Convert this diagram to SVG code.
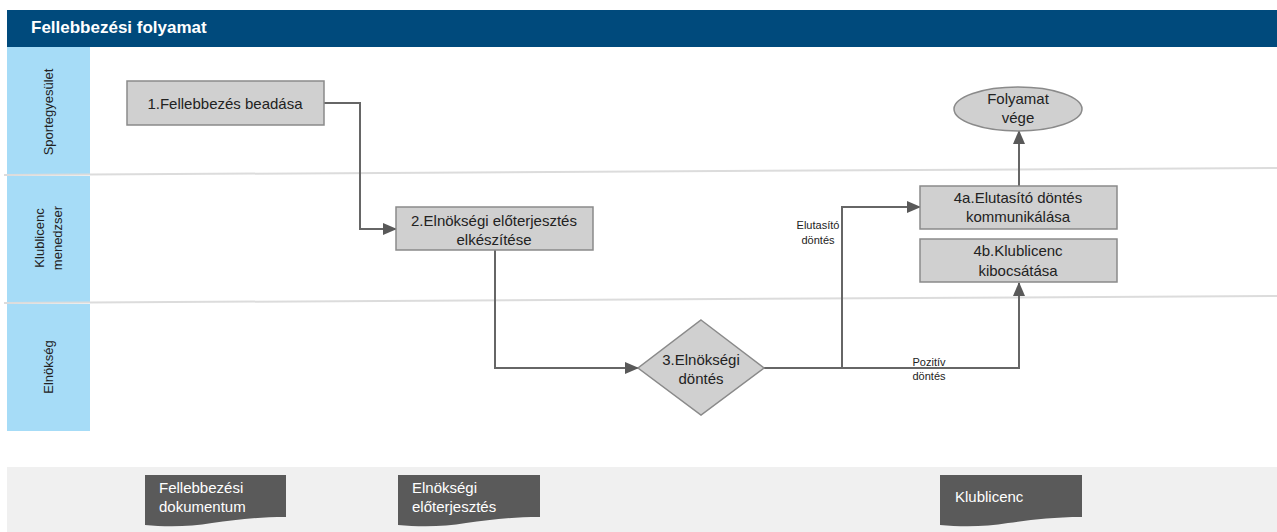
<svg xmlns="http://www.w3.org/2000/svg" width="1277" height="532" viewBox="0 0 1277 532">
<defs>
<style>
.t{font-family:"Liberation Sans",Arial,sans-serif;fill:#222;}
.node{fill:#d0d0d0;stroke:#8a8a8a;stroke-width:1.5;}
.lane{fill:#a6dcf7;}
.sep{stroke:#dcdcdc;stroke-width:2;}
.conn{fill:none;stroke:#666;stroke-width:2;}
.doc{fill:#5a5a5a;}
.dt{font-family:"Liberation Sans",Arial,sans-serif;fill:#fff;font-size:15px;}
</style>
<marker id="arr" markerWidth="14" markerHeight="12" refX="13" refY="6" orient="auto" markerUnits="userSpaceOnUse">
<path d="M0,0 L14,6 L0,12 Z" fill="#595959"/>
</marker>
</defs>
<rect width="1277" height="532" fill="#fff"/>
<g id="header">
<rect x="7" y="10" width="1270" height="37" fill="#004a7c"/>
<text x="31" y="33" class="t" style="fill:#fff;font-size:17px;font-weight:bold">Fellebbezési folyamat</text>
</g>
<g id="lanes">
<rect class="lane" x="7" y="47" width="83" height="127"/>
<rect class="lane" x="7" y="176" width="83" height="126"/>
<rect class="lane" x="7" y="304" width="83" height="127"/>
<line class="sep" x1="4" y1="175" x2="1277" y2="168"/>
<line class="sep" x1="4" y1="303" x2="1277" y2="296"/>
<text class="t" font-size="13" text-anchor="middle" transform="translate(53,112) rotate(-90)">Sportegyesület</text>
<text class="t" font-size="13" text-anchor="middle" transform="translate(44,238) rotate(-90)">Klublicenc</text>
<text class="t" font-size="13" text-anchor="middle" transform="translate(62,238) rotate(-90)">menedzser</text>
<text class="t" font-size="13" text-anchor="middle" transform="translate(53,367) rotate(-90)">Elnökség</text>
</g>
<g id="connectors">
<polyline class="conn" points="324,103 360,103 360,229 396,229" marker-end="url(#arr)"/>
<polyline class="conn" points="495,250 495,368 638,368" marker-end="url(#arr)"/>
<polyline class="conn" points="764,368 1019,368 1019,283" marker-end="url(#arr)"/>
<polyline class="conn" points="842,368 842,207 920,207" marker-end="url(#arr)"/>
<line class="conn" x1="1019" y1="186" x2="1019" y2="131" marker-end="url(#arr)"/>
<text class="t" font-size="11" text-anchor="middle" x="818" y="229">Elutasító</text>
<text class="t" font-size="11" text-anchor="middle" x="818" y="244">döntés</text>
<text class="t" font-size="11" text-anchor="middle" x="929" y="366">Pozitív</text>
<text class="t" font-size="11" text-anchor="middle" x="929" y="380">döntés</text>
</g>
<g id="n1">
<rect class="node" x="127" y="81" width="197" height="44"/>
<text class="t" font-size="15" text-anchor="middle" x="225" y="109">1.Fellebbezés beadása</text>
</g>
<g id="n2">
<rect class="node" x="396" y="207" width="197" height="43"/>
<text class="t" font-size="15" text-anchor="middle" x="494" y="226">2.Elnökségi előterjesztés</text>
<text class="t" font-size="15" text-anchor="middle" x="494" y="245">elkészítése</text>
</g>
<g id="n3">
<polygon class="node" points="701,320 764,368 701,415 638,368"/>
<text class="t" font-size="15" text-anchor="middle" x="701" y="365">3.Elnökségi</text>
<text class="t" font-size="15" text-anchor="middle" x="701" y="384">döntés</text>
</g>
<g id="n4a">
<rect class="node" x="920" y="186" width="197" height="43"/>
<text class="t" font-size="15" text-anchor="middle" x="1018" y="203">4a.Elutasító döntés</text>
<text class="t" font-size="15" text-anchor="middle" x="1018" y="222">kommunikálása</text>
</g>
<g id="n4b">
<rect class="node" x="920" y="239" width="197" height="43"/>
<text class="t" font-size="15" text-anchor="middle" x="1018" y="256">4b.Klublicenc</text>
<text class="t" font-size="15" text-anchor="middle" x="1018" y="276">kibocsátása</text>
</g>
<g id="end">
<ellipse class="node" cx="1018" cy="109" rx="64" ry="22"/>
<text class="t" font-size="15" text-anchor="middle" x="1018" y="104">Folyamat</text>
<text class="t" font-size="15" text-anchor="middle" x="1018" y="123">vége</text>
</g>
<g id="docs">
<rect x="7" y="467" width="1270" height="65" fill="#f0f0f0"/>
<g id="d1">
<path class="doc" d="M145,475 H286 V517 C255,517 235,520 212,523 C190,527 165,527 145,525 Z"/>
<text class="dt" x="159" y="493">Fellebbezési</text>
<text class="dt" x="159" y="512">dokumentum</text>
</g>
<g id="d2">
<path class="doc" d="M398,475 H540 V517 C509,517 489,520 466,523 C444,527 419,527 398,525 Z"/>
<text class="dt" x="412" y="493">Elnökségi</text>
<text class="dt" x="412" y="512">előterjesztés</text>
</g>
<g id="d3">
<path class="doc" d="M940,475 H1082 V517 C1051,517 1031,520 1008,523 C986,527 961,527 940,525 Z"/>
<text class="dt" x="955" y="502">Klublicenc</text>
</g>
</g>
</svg>
